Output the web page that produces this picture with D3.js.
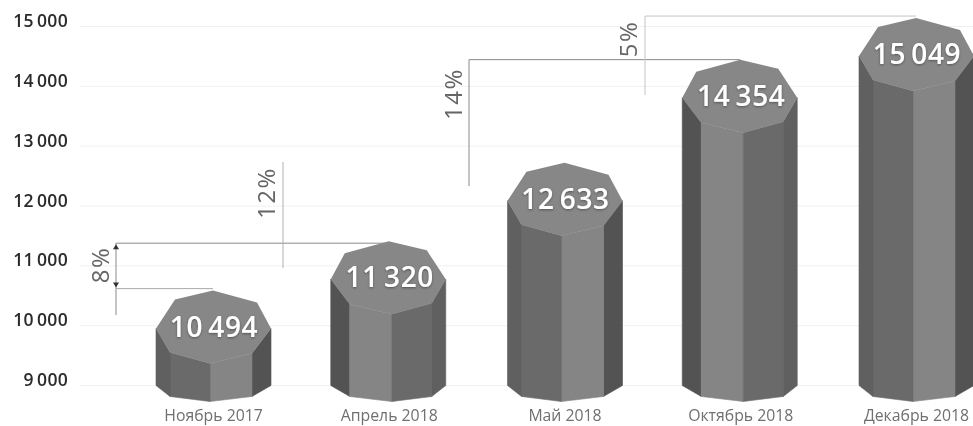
<!DOCTYPE html>
<html>
<head>
<meta charset="utf-8">
<script src="https://cdn.jsdelivr.net/npm/d3@7"></script>
<style>
  body { margin: 0; background: #fff; }
  svg { display: block; }
  text { font-family: "Open Sans", sans-serif; }
</style>
</head>
<body>
<svg id="chart" width="973" height="426"></svg>
<script>
const categories = ['Ноябрь 2017', 'Апрель 2018', 'Май 2018', 'Октябрь 2018', 'Декабрь 2018'];
const values = [10494, 11320, 12633, 14354, 15049];
const yTicks = [9000, 10000, 11000, 12000, 13000, 14000, 15000];
const growth = ['8%', '12%', '14%', '5%'];

const width = 973, height = 426;
const svg = d3.select('#chart');

const x = d3.scalePoint().domain(categories).range([213, 916]);
const y = d3.scaleLinear().domain([9000, 15000]).range([385, 26]);
const fmt = d3.formatLocale({decimal: ',', thousands: '\u2009', grouping: [3], currency: ['', '']}).format(',d');

const defs = svg.append('defs');
defs.append('filter').attr('id', 'soft')
    .append('feGaussianBlur').attr('stdDeviation', 0.5);
const shadow = defs.append('filter').attr('id', 'txtShadow')
    .attr('x', '-10%').attr('y', '-20%').attr('width', '120%').attr('height', '140%');
shadow.append('feDropShadow')
    .attr('dx', 0).attr('dy', 1).attr('stdDeviation', 1)
    .attr('flood-color', '#333').attr('flood-opacity', 0.6);

const g = svg.append('g').attr('filter', 'url(#soft)');

// Gridlines and y labels
const yAxis = d3.axisLeft(y).tickValues(yTicks).tickSize(-(width - 80)).tickPadding(12).tickFormat(fmt);
const yAxisG = g.append('g').attr('transform', 'translate(80,0)').call(yAxis);
yAxisG.select('.domain').remove();
yAxisG.selectAll('.tick line').attr('stroke', '#f1f1f1');
yAxisG.selectAll('.tick text')
    .attr('fill', '#2b2b2b')
    .attr('font-size', 17.5)
    .attr('font-weight', 600)
    .attr('letter-spacing', 0.3)
    .attr('y', -5);

// Category labels
const xAxis = d3.axisBottom(x).tickSize(0).tickPadding(0);
const xAxisG = g.append('g').attr('transform', 'translate(0,411)').call(xAxis);
xAxisG.select('.domain').remove();
xAxisG.selectAll('.tick text')
    .attr('fill', '#6f6f6f')
    .attr('font-size', 15.8)
    .attr('y', -1.2);

// Top face outline relative to apex: dx from bar centre, dy below apex
const topFace = [[0, 0], [44, 12], [58, 38], [39, 63], [-3, 73], [-43, 62], [-57, 38], [-38, 9]];
const baseY = 401.5;
const colTop = '#858585', colDark = '#535353', colMid = '#6a6a6a', colSide = '#606060';
const line = d3.line();

function drawColumn(d, i) {
    const cx = x(categories[i]);
    const apex = y(d) - 5;
    const flip = i % 2 === 1 ? -1 : 1;
    const p = topFace.map(v => [cx + flip * v[0], apex + v[1]]);
    const col = d3.select(this);
    // lower rim: same shape as the top front vertices, squashed to the base
    const rim = [[58, -16], [39, -5], [-3, 0], [-43, -5], [-57, -16]]
        .map(v => [cx + flip * v[0], baseY + v[1]]);
    const faces = [
        {a: p[2], b: p[3], ra: rim[0], rb: rim[1], fill: colDark},
        {a: p[3], b: p[4], ra: rim[1], rb: rim[2], fill: colTop},
        {a: p[4], b: p[5], ra: rim[2], rb: rim[3], fill: colMid},
        {a: p[5], b: p[6], ra: rim[3], rb: rim[4], fill: colSide}
    ];
    faces.forEach(f => {
        col.append('path')
            .attr('d', line([f.a, f.b, f.rb, f.ra]) + 'Z')
            .attr('fill', f.fill)
            .attr('stroke', f.fill)
            .attr('stroke-width', 0.6);
    });
    col.append('path').attr('d', line(p) + 'Z').attr('fill', '#878787');
    col.append('text')
        .attr('x', cx + 1)
        .attr('y', apex + 46)
        .attr('text-anchor', 'middle')
        .attr('fill', '#fff')
        .attr('font-size', 28)
        .attr('font-weight', 600)
        .attr('letter-spacing', 0.6)
        .attr('filter', 'url(#txtShadow)')
        .text(fmt(d));
}

g.selectAll('.column')
    .data(values)
    .enter()
    .append('g')
    .attr('class', 'column')
    .each(drawColumn);

// Growth brackets
const bracket = g.append('g').attr('fill', 'none');
const apexY = v => y(v) - 5;
const brackets = [
    {x: 116, y1: apexY(values[1]) + 2, y2: 315, to: x(categories[1]), color: '#8a8a8a', tx: 99, ty: 265, label: growth[0]},
    {x: 283, y1: 162, y2: 268, to: null, color: '#b0b0b0', tx: 265, ty: 193, label: growth[1]},
    {x: 469, y1: apexY(values[3]), y2: 186, to: x(categories[3]), color: '#8a8a8a', tx: 452, ty: 94, label: growth[2]},
    {x: 645, y1: apexY(values[4]) - 2, y2: 95, to: x(categories[4]), color: '#c4c4c4', tx: 627, ty: 39, label: growth[3]}
];
brackets.forEach(b => {
    bracket.append('line').attr('x1', b.x).attr('x2', b.x).attr('y1', b.y1).attr('y2', b.y2).attr('stroke', b.color);
    if (b.to) bracket.append('line').attr('x1', b.x).attr('x2', b.to).attr('y1', b.y1).attr('y2', b.y1).attr('stroke', b.color);
    g.append('text')
        .attr('transform', `translate(${b.tx},${b.ty}) rotate(-90)`)
        .attr('text-anchor', 'middle')
        .attr('dominant-baseline', 'central')
        .attr('fill', '#666')
        .attr('font-size', 24)
        .attr('letter-spacing', 1.5)
        .text(b.label);
});
// Lower rule of the 8% bracket, with its arrowheads
bracket.append('line')
    .attr('x1', 116).attr('x2', x(categories[0]))
    .attr('y1', apexY(values[0]) - 2).attr('y2', apexY(values[0]) - 2)
    .attr('stroke', '#aaa');
[[apexY(values[1]) + 3, 1], [apexY(values[0]) - 3, -1]].forEach(a => {
    g.append('path')
        .attr('d', line([[116, a[0]], [113, a[0] + a[1] * 5], [119, a[0] + a[1] * 5]]) + 'Z')
        .attr('fill', '#333');
});
</script>
</body>
</html>
